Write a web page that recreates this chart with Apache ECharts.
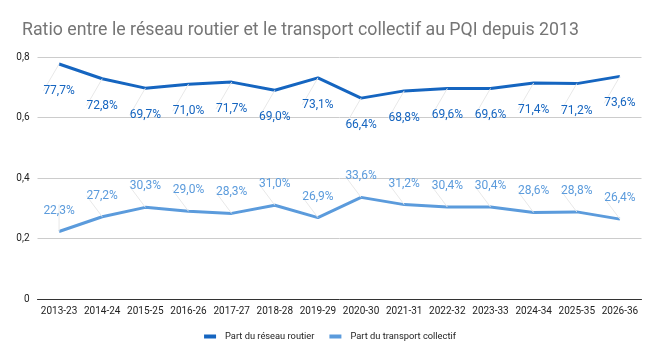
<!DOCTYPE html>
<html><head><meta charset="utf-8">
<script src="https://cdn.jsdelivr.net/npm/echarts@6/dist/echarts.min.js"></script>
<style>html,body{margin:0;padding:0;background:#fff}#c{width:660px;height:358px}</style>
</head><body><div id="c"></div>
<script>
const categories = ["2013-23","2014-24","2015-25","2016-26","2017-27","2018-28","2019-29","2020-30","2021-31","2022-32","2023-33","2024-34","2025-35","2026-36"];
const routier = [0.777,0.728,0.697,0.710,0.717,0.690,0.731,0.664,0.688,0.696,0.696,0.714,0.712,0.736];
const collectif = [0.223,0.272,0.303,0.290,0.283,0.310,0.269,0.336,0.312,0.304,0.304,0.286,0.288,0.264];
const yTicks = [0,0.2,0.4,0.6,0.8];
const seriesNames = ["Part du réseau routier","Part du transport collectif"];

const fmtPct = v => (v*100).toFixed(1).replace('.', ',') + '%';
const chart = echarts.init(document.getElementById('c'), null, {renderer:'canvas'});
function mk(name, data, color, below){
  return {
    name, type:'line', data, symbol:'circle', symbolSize:0, showSymbol:true, smooth:false,
    lineStyle:{color, width:3}, itemStyle:{color},
    label:{show:true, position: below?'bottom':'top', distance:0, color, fontSize:12, fontFamily:'Roboto',
      formatter: p => fmtPct(p.value)},
    labelLayout:{dy: below?21:-15},
    labelLine:{show:true, lineStyle:{color:'#e8e8e8', width:1}}
  };
}
chart.setOption({
  animation:false,
  title:{text:'Ratio entre le réseau routier et le transport collectif au PQI depuis 2013', left:17, top:17,
    textStyle:{fontFamily:'Roboto', fontSize:17.75, fontWeight:'normal', color:'#757575'}},
  grid:{left:37.5, right:18.5, top:57, bottom:59},
  legend:{bottom:12, left:'center', itemWidth:12, itemHeight:4, itemGap:15, icon:'rect',
    textStyle:{fontFamily:'Roboto', fontSize:9.3, color:'#222', padding:[0,0,0,4]}, data:seriesNames},
  xAxis:{type:'category', data:categories, boundaryGap:true,
    axisLine:{lineStyle:{color:'#333'}}, axisTick:{show:false},
    axisLabel:{fontFamily:'Roboto', fontSize:10, color:'#222', margin:7, interval:0}},
  yAxis:{type:'value', min:yTicks[0], max:yTicks[yTicks.length-1], interval:0.2,
    axisLine:{show:false}, axisTick:{show:false},
    splitLine:{lineStyle:{color:'#cccccc'}},
    axisLabel:{fontFamily:'Roboto', fontSize:10, color:'#222', margin:8,
      formatter: v => v===0 ? '0' : String(Math.round(v*10)/10).replace('.', ',')}},
  series:[mk(seriesNames[0], routier, '#1565c0', true), mk(seriesNames[1], collectif, '#5b9bdc', false)]
});
</script></body></html>
